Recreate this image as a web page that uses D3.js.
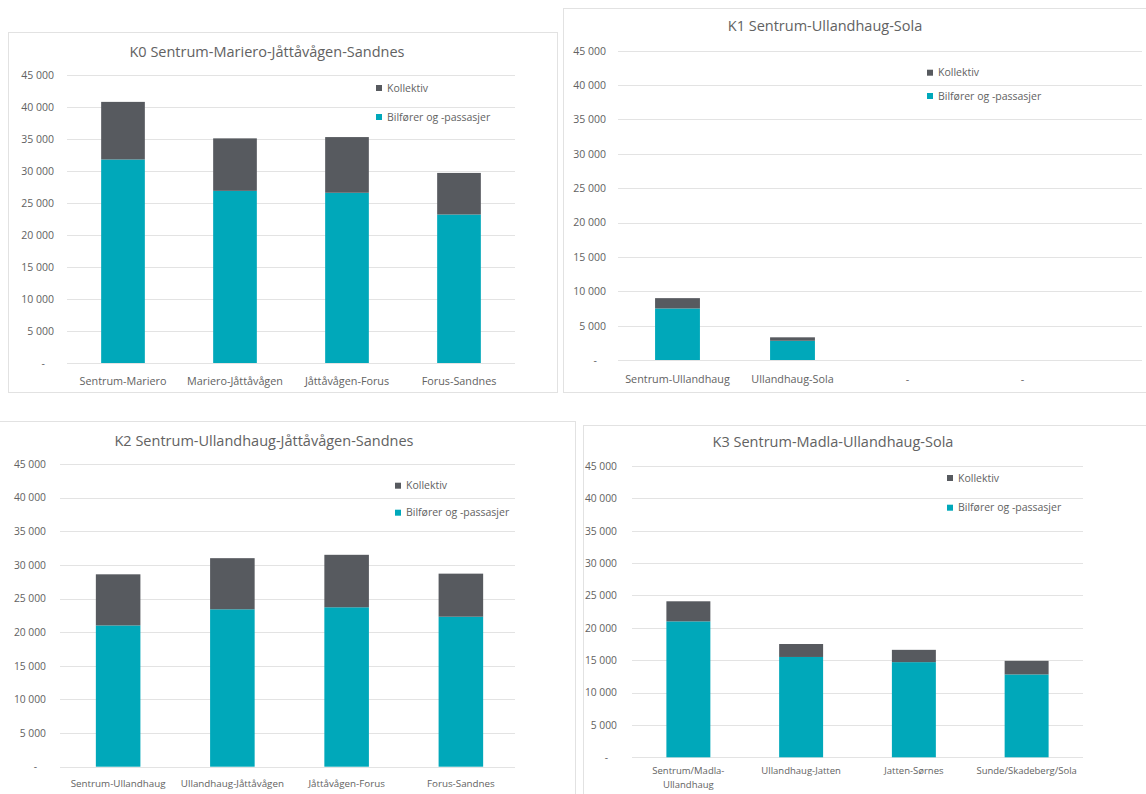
<!DOCTYPE html>
<html>
<head>
<meta charset="utf-8">
<script src="https://cdn.jsdelivr.net/npm/d3@7"></script>
<style>
  html, body { margin: 0; padding: 0; background: #ffffff; }
  svg { display: block; font-family: "Open Sans", "DejaVu Sans", sans-serif; }
</style>
</head>
<body>
<svg id="chart" width="1146" height="794"></svg>
<script>
// ---------- DATA ----------
const seriesNames = ["Kollektiv", "Bilfører og -passasjer"];
const yTickValues = [0, 5000, 10000, 15000, 20000, 25000, 30000, 35000, 40000, 45000];
const yTickLabels = ["-", "5 000", "10 000", "15 000", "20 000", "25 000", "30 000", "35 000", "40 000", "45 000"];

const k0Title = "K0 Sentrum-Mariero-Jåttåvågen-Sandnes";
const k0Categories = ["Sentrum-Mariero", "Mariero-Jåttåvågen", "Jåttåvågen-Forus", "Forus-Sandnes"];
const k0Bil = [31800, 26900, 26600, 23200];
const k0Kollektiv = [9000, 8200, 8700, 6500];

const k1Title = "K1 Sentrum-Ullandhaug-Sola";
const k1Categories = ["Sentrum-Ullandhaug", "Ullandhaug-Sola", "-", "- "];
const k1Bil = [7500, 2800, 0, 0];
const k1Kollektiv = [1500, 500, 0, 0];

const k2Title = "K2 Sentrum-Ullandhaug-Jåttåvågen-Sandnes";
const k2Categories = ["Sentrum-Ullandhaug", "Ullandhaug-Jåttåvågen", "Jåttåvågen-Forus", "Forus-Sandnes"];
const k2Bil = [21000, 23400, 23700, 22300];
const k2Kollektiv = [7600, 7600, 7800, 6400];

const k3Title = "K3 Sentrum-Madla-Ullandhaug-Sola";
const k3Categories = ["Sentrum/Madla-Ullandhaug", "Ullandhaug-Jatten", "Jatten-Sørnes", "Sunde/Skadeberg/Sola"];
const k3Bil = [21000, 15500, 14700, 12800];
const k3Kollektiv = [3100, 2000, 1900, 2100];

// ---------- STYLE / LAYOUT ----------
const colorBil = "#00A8BA";
const colorKol = "#575A5F";
const textColor = "#626262";
const gridColor = "#e3e3e3";

const panels = [
  { title: k0Title, cats: k0Categories, bil: k0Bil, kol: k0Kollektiv,
    box: [8, 32, 557, 392], plotX: [67, 515], gridX: [67, 515], plotY: [75, 363],
    tickX: 54, titleXY: [267, 57], titleSize: 14.5, legX: 379, legY: [88, 117],
    tickSize: 10.5, catSize: 10.8, catY: 385, wrap: false },
  { title: k1Title, cats: k1Categories, bil: k1Bil, kol: k1Kollektiv,
    box: [563, 8, 1150, 392], plotX: [620, 1080], gridX: [618, 1142], plotY: [50.7, 360],
    tickX: 606, titleXY: [825, 31], titleSize: 14.5, legX: 930, legY: [72.7, 96],
    tickSize: 10.5, catSize: 10.8, catY: 383, wrap: false },
  { title: k2Title, cats: k2Categories, bil: k2Bil, kol: k2Kollektiv,
    box: [-2, 421, 575, 798], plotX: [61, 518], gridX: [60, 515], plotY: [464, 766.7],
    tickX: 46, titleXY: [264, 446], titleSize: 14.5, legX: 398, legY: [485.7, 512.7],
    tickSize: 10.3, catSize: 9.8, catY: 787, wrap: false },
  { title: k3Title, cats: k3Categories, bil: k3Bil, kol: k3Kollektiv,
    box: [583, 425, 1150, 798], plotX: [632, 1083], gridX: [632, 1083], plotY: [466, 757.3],
    tickX: 617, titleXY: [833, 447], titleSize: 14.5, legX: 950, legY: [478, 507.7],
    tickSize: 10.3, catSize: 9.5, catY: 774, wrap: true }
];

const svg = d3.select("#chart");

panels.forEach(p => {
  const g = svg.append("g");

  // chart area border
  g.append("rect")
    .attr("x", p.box[0] + 0.5).attr("y", p.box[1] + 0.5)
    .attr("width", p.box[2] - p.box[0]).attr("height", p.box[3] - p.box[1])
    .attr("fill", "#ffffff").attr("stroke", "#e2e2e2").attr("stroke-width", 1);

  const x = d3.scaleBand().domain(p.cats).range(p.plotX)
    .paddingInner(0.61).paddingOuter(0.305);
  const y = d3.scaleLinear().domain([0, 45000]).range([p.plotY[1], p.plotY[0]]);

  // gridlines
  g.append("g").selectAll("line").data(yTickValues).join("line")
    .attr("x1", p.gridX[0]).attr("x2", p.gridX[1])
    .attr("y1", d => Math.round(y(d)) + 0.5).attr("y2", d => Math.round(y(d)) + 0.5)
    .attr("stroke", gridColor).attr("stroke-width", 1);

  // y axis labels via d3 axis
  const yAxis = d3.axisLeft(y).tickValues(yTickValues)
    .tickFormat((d, i) => yTickLabels[i]).tickSize(0).tickPadding(0);
  const ya = g.append("g").attr("transform", `translate(${p.tickX},0)`).call(yAxis);
  ya.select(".domain").remove();
  ya.selectAll("text")
    .attr("fill", textColor).attr("font-size", p.tickSize)
    .attr("font-family", "\"Open Sans\", sans-serif")
    .attr("dx", d => d === 0 ? -9 : 0);

  // stacked bars
  const stackData = p.cats.map((c, i) => ({ cat: c, bil: p.bil[i], kol: p.kol[i] }));
  const stacked = d3.stack().keys(["bil", "kol"])(stackData);
  const colors = { bil: colorBil, kol: colorKol };
  stacked.forEach(layer => {
    g.append("g").selectAll("rect").data(layer.filter(d => d[1] - d[0] > 0)).join("rect")
      .attr("x", d => x(d.data.cat))
      .attr("width", x.bandwidth())
      .attr("y", d => y(d[1]))
      .attr("height", d => y(d[0]) - y(d[1]))
      .attr("fill", colors[layer.key]);
  });

  // x axis labels
  const xAxis = d3.axisBottom(x).tickSize(0).tickPadding(0);
  const xa = g.append("g").attr("transform", `translate(0,${p.catY})`).call(xAxis);
  xa.select(".domain").remove();
  xa.selectAll("text")
    .attr("fill", textColor).attr("font-size", p.catSize)
    .attr("font-family", "\"Open Sans\", sans-serif")
    .attr("dy", 0);
  if (p.wrap) {
    xa.selectAll("text").each(function(d) {
      const t = d3.select(this);
      if (d.indexOf("Madla-") >= 0) {
        const parts = ["Sentrum/Madla-", "Ullandhaug"];
        t.text(null);
        parts.forEach((s, k) => t.append("tspan").attr("x", 0).attr("dy", k === 0 ? 0 : "1.45em").text(s));
      }
    });
  }

  // title
  g.append("text")
    .attr("x", p.titleXY[0]).attr("y", p.titleXY[1])
    .attr("text-anchor", "middle")
    .attr("fill", textColor).attr("font-size", p.titleSize)
    .text(p.title);

  // legend
  const legColors = [colorKol, colorBil];
  seriesNames.forEach((name, i) => {
    g.append("rect")
      .attr("x", p.legX - 3).attr("y", p.legY[i] - 3)
      .attr("width", 6).attr("height", 6).attr("fill", legColors[i]);
    g.append("text")
      .attr("x", p.legX + 8).attr("y", p.legY[i] + 3.6)
      .attr("fill", textColor).attr("font-size", 10.5)
      .text(name);
  });
});
</script>
</body>
</html>
